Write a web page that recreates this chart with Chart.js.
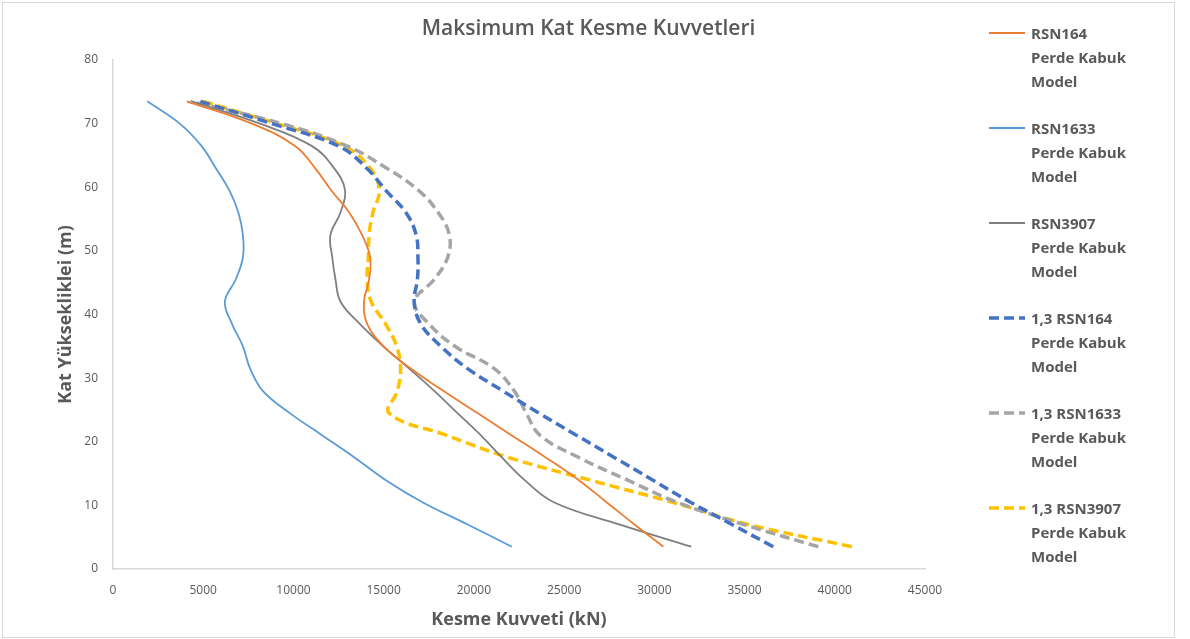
<!DOCTYPE html>
<html>
<head>
<meta charset="utf-8">
<script src="https://cdn.jsdelivr.net/npm/chart.js@4.4.1/dist/chart.umd.min.js"></script>
<style>
  body { margin: 0; background: #fff; font-family: "Open Sans", sans-serif; }
  #frame { position: absolute; left: 2px; top: 2px; width: 1171px; height: 634px; border: 1px solid #d9d9d9; background: #fff; }
  #c { position: absolute; left: 0; top: 0; }
  #title { position: absolute; left: 0; top: 10px; width: 1171px; text-align: center;
           font-size: 21px; font-weight: 600; color: #595959; line-height: 28px; }
  #legend { position: absolute; left: 986px; top: 18px; }
  .item { position: relative; height: 95px; padding-left: 42px; white-space: pre-line;
          font-size: 15px; font-weight: 700; color: #595959; line-height: 24px; }
  .item svg { position: absolute; left: 0; top: 9px; }
</style>
</head>
<body>
<div id="frame">
  <canvas id="c" width="1171" height="634"></canvas>
  <div id="title">Maksimum Kat Kesme Kuvvetleri</div>
  <div id="legend"></div>
</div>
<script>
// kat yükseklikleri (m)
const heights = [3.5, 7, 10.5, 14, 17.5, 21, 24.5, 28, 31.5, 35, 38.5, 42, 45.5, 49, 52.5, 56, 59.5, 63, 66.5, 70, 73.5];

// kesme kuvveti (kN), alttan üste
const rsn164 = [30500, 28900, 27350, 25800, 24000, 22100, 20200, 18300, 16500, 15000, 14090, 13910, 14190, 14250, 13800, 13100, 12100, 11200, 10090, 7690, 4090];
const rsn1633 = [22100, 19650, 17150, 15100, 13400, 11600, 9800, 8300, 7600, 7200, 6600, 6200, 6800, 7200, 7200, 6950, 6450, 5700, 4900, 3700, 1900];
const rsn3907 = [32050, 28050, 24430, 22800, 21560, 20390, 19090, 17800, 16410, 14980, 13690, 12610, 12330, 12150, 12050, 12600, 12860, 12250, 11010, 8150, 4370];
const rsn164x13 = [36590, 34300, 32000, 29900, 27800, 25700, 23600, 21600, 19650, 18170, 17060, 16690, 16870, 16900, 16800, 16240, 15120, 14060, 12490, 8800, 4830];
const rsn1633x13 = [39090, 34940, 31250, 28500, 25830, 23670, 22900, 22230, 21130, 18950, 17520, 16700, 17800, 18550, 18640, 18030, 16930, 15170, 12950, 9350, 4280];
const rsn3907x13 = [40940, 35220, 31000, 26400, 21940, 18500, 15300, 15760, 15940, 15720, 15110, 14310, 14090, 14150, 14190, 14400, 14760, 14250, 12770, 9070, 5000];

const seriesNames = [
  "RSN164\nPerde Kabuk\nModel",
  "RSN1633\nPerde Kabuk\nModel",
  "RSN3907\nPerde Kabuk\nModel",
  "1,3 RSN164\nPerde Kabuk\nModel",
  "1,3 RSN1633\nPerde Kabuk\nModel",
  "1,3 RSN3907\nPerde Kabuk\nModel"
];

const xTicks = [0, 5000, 10000, 15000, 20000, 25000, 30000, 35000, 40000, 45000];
const yTicks = [0, 10, 20, 30, 40, 50, 60, 70, 80];

function pts(values) {
  return heights.map((h, i) => ({ x: values[i], y: h }));
}

const solid = { borderWidth: 1.8, borderDash: [] };
const dashed = { borderWidth: 3.5, borderDash: [10, 5] };

const datasets = [
  Object.assign({ label: seriesNames[0], data: pts(rsn164), borderColor: "#ED7D31" }, solid),
  Object.assign({ label: seriesNames[1], data: pts(rsn1633), borderColor: "#5B9BD5" }, solid),
  Object.assign({ label: seriesNames[2], data: pts(rsn3907), borderColor: "#7F7F7F" }, solid),
  Object.assign({ label: seriesNames[3], data: pts(rsn164x13), borderColor: "#4472C4" }, dashed),
  Object.assign({ label: seriesNames[4], data: pts(rsn1633x13), borderColor: "#A5A5A5" }, dashed),
  Object.assign({ label: seriesNames[5], data: pts(rsn3907x13), borderColor: "#FFC000" }, dashed)
];
datasets.forEach(d => { d.showLine = true; d.fill = false; d.tension = 0.4; d.pointRadius = 0; });

const axisColor = "#d9d9d9";
const textColor = "#595959";

new Chart(document.getElementById("c"), {
  type: "scatter",
  data: { datasets: datasets },
  options: {
    responsive: false,
    animation: false,
    layout: { padding: { top: 57, right: 249, left: 0, bottom: 0 } },
    plugins: { legend: { display: false }, title: { display: false }, tooltip: { enabled: false } },
    scales: {
      x: {
        type: "linear", min: xTicks[0], max: xTicks[xTicks.length - 1],
        afterBuildTicks: s => { s.ticks = xTicks.map(v => ({ value: v })); },
        afterFit: s => { s.height = 68; },
        grid: { display: false, drawTicks: false },
        border: { display: true, color: axisColor, width: 1.5 },
        ticks: { color: textColor, font: { family: "Open Sans", size: 12 }, padding: 14, callback: v => String(v) },
        title: { display: true, text: "Kesme Kuvveti (kN)", color: textColor,
                 font: { family: "Open Sans", size: 18, weight: "700" }, padding: { top: 0, bottom: 6 } }
      },
      y: {
        type: "linear", min: yTicks[0], max: yTicks[yTicks.length - 1],
        afterBuildTicks: s => { s.ticks = yTicks.map(v => ({ value: v })); },
        afterFit: s => { s.width = 110; },
        grid: { display: false, drawTicks: false },
        border: { display: true, color: axisColor, width: 1.5 },
        ticks: { color: textColor, font: { family: "Open Sans", size: 12 }, padding: 15, callback: v => String(v) },
        title: { display: true, text: "Kat Yüksekliklei (m)", color: textColor,
                 font: { family: "Open Sans", size: 18, weight: "700" }, padding: { top: 52, bottom: 0 } }
      }
    }
  }
});

// legend
const legend = document.getElementById("legend");
datasets.forEach(d => {
  const item = document.createElement("div");
  item.className = "item";
  const dash = d.borderDash.length ? d.borderDash.join(" ") : "none";
  item.innerHTML = '<svg width="36" height="6"><line x1="0" y1="3" x2="36" y2="3" stroke="' + d.borderColor +
    '" stroke-width="' + d.borderWidth + '" stroke-dasharray="' + dash + '"/></svg>';
  item.appendChild(document.createTextNode(d.label));
  legend.appendChild(item);
});
</script>
</body>
</html>
